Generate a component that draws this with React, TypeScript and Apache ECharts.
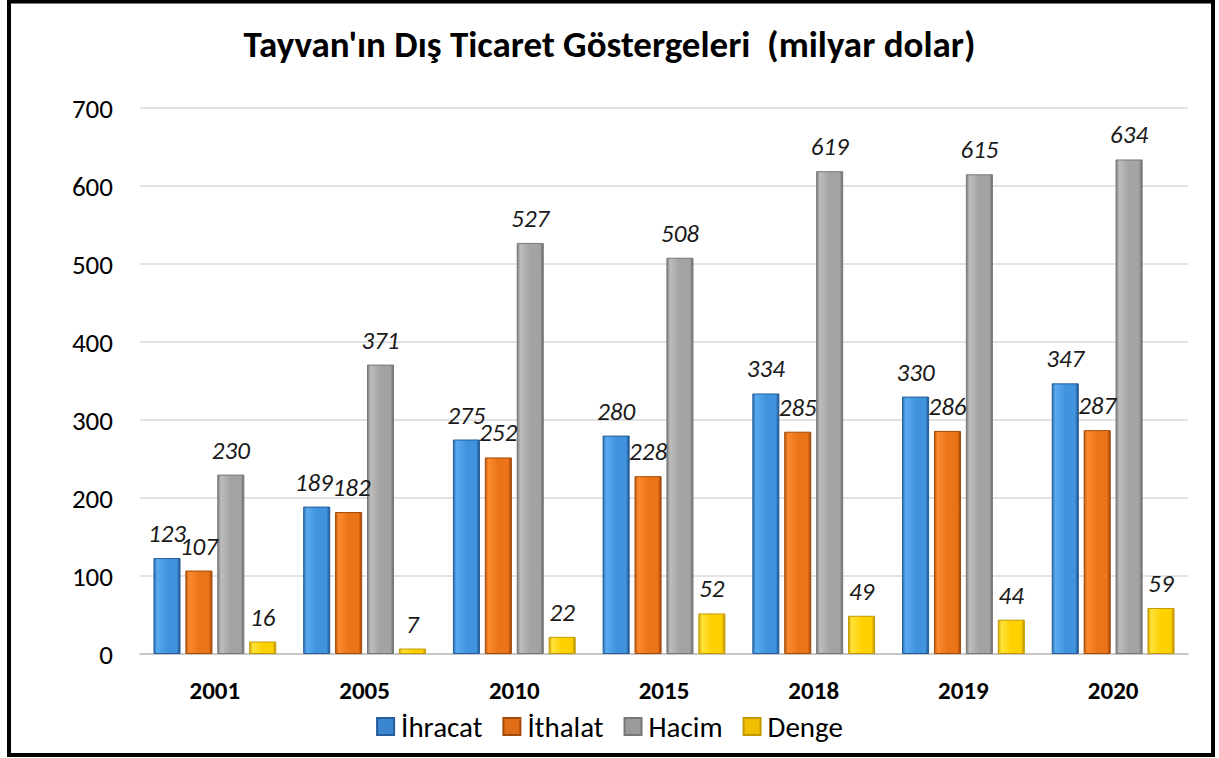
import React, { useEffect, useRef } from "react";
import * as echarts from "echarts";

const categories = ["2001", "2005", "2010", "2015", "2018", "2019", "2020"];
const ihracat = [123, 189, 275, 280, 334, 330, 347];
const ithalat = [107, 182, 252, 228, 285, 286, 287];
const hacim = [230, 371, 527, 508, 619, 615, 634];
const denge = [16, 7, 22, 52, 49, 44, 59];
const yTicks = { min: 0, max: 700, interval: 100 };

const FONT = "Carlito, Lato, 'Open Sans', sans-serif";

function grad(edgeL: string, light: string, mid: string, edgeR: string) {
  return new echarts.graphic.LinearGradient(0, 0, 1, 0, [
    { offset: 0, color: edgeL },
    { offset: 0.12, color: light },
    { offset: 0.5, color: mid },
    { offset: 0.88, color: mid },
    { offset: 1, color: edgeR },
  ]);
}

// small horizontal nudges for crowded labels (series index -> category index -> dx)
const labelNudge: Record<number, Record<number, number>> = {
  0: { 1: -3 },
  1: { 1: 3 },
};

const seriesDefs = [
  { name: "İhracat", data: ihracat, color: grad("#2f6fb3", "#5aaaf0", "#4094de", "#1f4f8a"), border: "#245d99", swatch: "#3a86cf" },
  { name: "İthalat", data: ithalat, color: grad("#c35a0c", "#fb8a2e", "#ec7418", "#9a4206"), border: "#a34a08", swatch: "#e06d17" },
  { name: "Hacim", data: hacim, color: grad("#7b7b7b", "#bdbdbd", "#a3a3a3", "#6a6a6a"), border: "#777777", swatch: "#9a9a9a" },
  { name: "Denge", data: denge, color: grad("#d6a800", "#ffe23a", "#ffd000", "#b98f00"), border: "#c29a00", swatch: "#f0c000" },
];

export default function App() {
  const ref = useRef<HTMLDivElement>(null);
  useEffect(() => {
    if (!ref.current) return;
    const chart = echarts.init(ref.current, null, { renderer: "svg" });
    chart.setOption({
      animation: false,
      backgroundColor: "#ffffff",
      textStyle: { fontFamily: FONT },
      title: {
        text: "Tayvan'ın Dış Ticaret Göstergeleri  (milyar dolar)",
        left: "center",
        top: 21,
        textStyle: { fontFamily: FONT, fontWeight: "bold", fontSize: 37, color: "#000" },
      },
      legend: {
        bottom: 12,
        left: "center",
        icon: "rect",
        itemWidth: 17,
        itemHeight: 17,
        itemGap: 20,
        textStyle: { fontFamily: FONT, fontSize: 29, color: "#000", padding: [0, 0, 0, 2] },
        data: seriesDefs.map((s) => ({ name: s.name, itemStyle: { color: s.swatch } })),
      },
      graphic: [
        {
          type: "rect",
          shape: { x: 9, y: 1.5, width: 1204, height: 753.5 },
          style: { fill: "none", stroke: "#000", lineWidth: 4 },
          silent: true,
          z: 100,
        },
      ],
      grid: { left: 140, right: 31, top: 108, bottom: 104 },
      xAxis: {
        type: "category",
        data: categories,
        axisTick: { show: false },
        axisLine: { show: true, lineStyle: { color: "#c8c8c8", width: 2 } },
        axisLabel: { margin: 24, fontFamily: FONT, fontWeight: "bold", fontSize: 25, color: "#000" },
      },
      yAxis: {
        type: "value",
        min: yTicks.min,
        max: yTicks.max,
        interval: yTicks.interval,
        axisLine: { show: false },
        axisTick: { show: false },
        axisLabel: { margin: 27, fontFamily: FONT, fontSize: 27, color: "#000" },
        splitLine: { lineStyle: { color: "#d9d9d9", width: 1.5 } },
      },
      series: seriesDefs.map((s, si) => ({
        name: s.name,
        type: "bar",
        data: s.data.map((v, ci) => {
          const dx = labelNudge[si] && labelNudge[si][ci];
          return dx ? { value: v, label: { offset: [dx, 0] } } : v;
        }),
        barGap: "18%",
        barCategoryGap: "18%",
        itemStyle: { color: s.color, borderColor: s.border, borderWidth: 1 },
        label: {
          show: true,
          position: "top",
          distance: 12,
          fontFamily: FONT,
          fontStyle: "italic",
          fontSize: 25,
          color: "#1a1a1a",
        },
      })),
    });
    return () => chart.dispose();
  }, []);
  return (
    <div
      ref={ref}
      style={{ position: "fixed", left: 0, top: 0, width: 1219, height: 758 }}
    />
  );
}
